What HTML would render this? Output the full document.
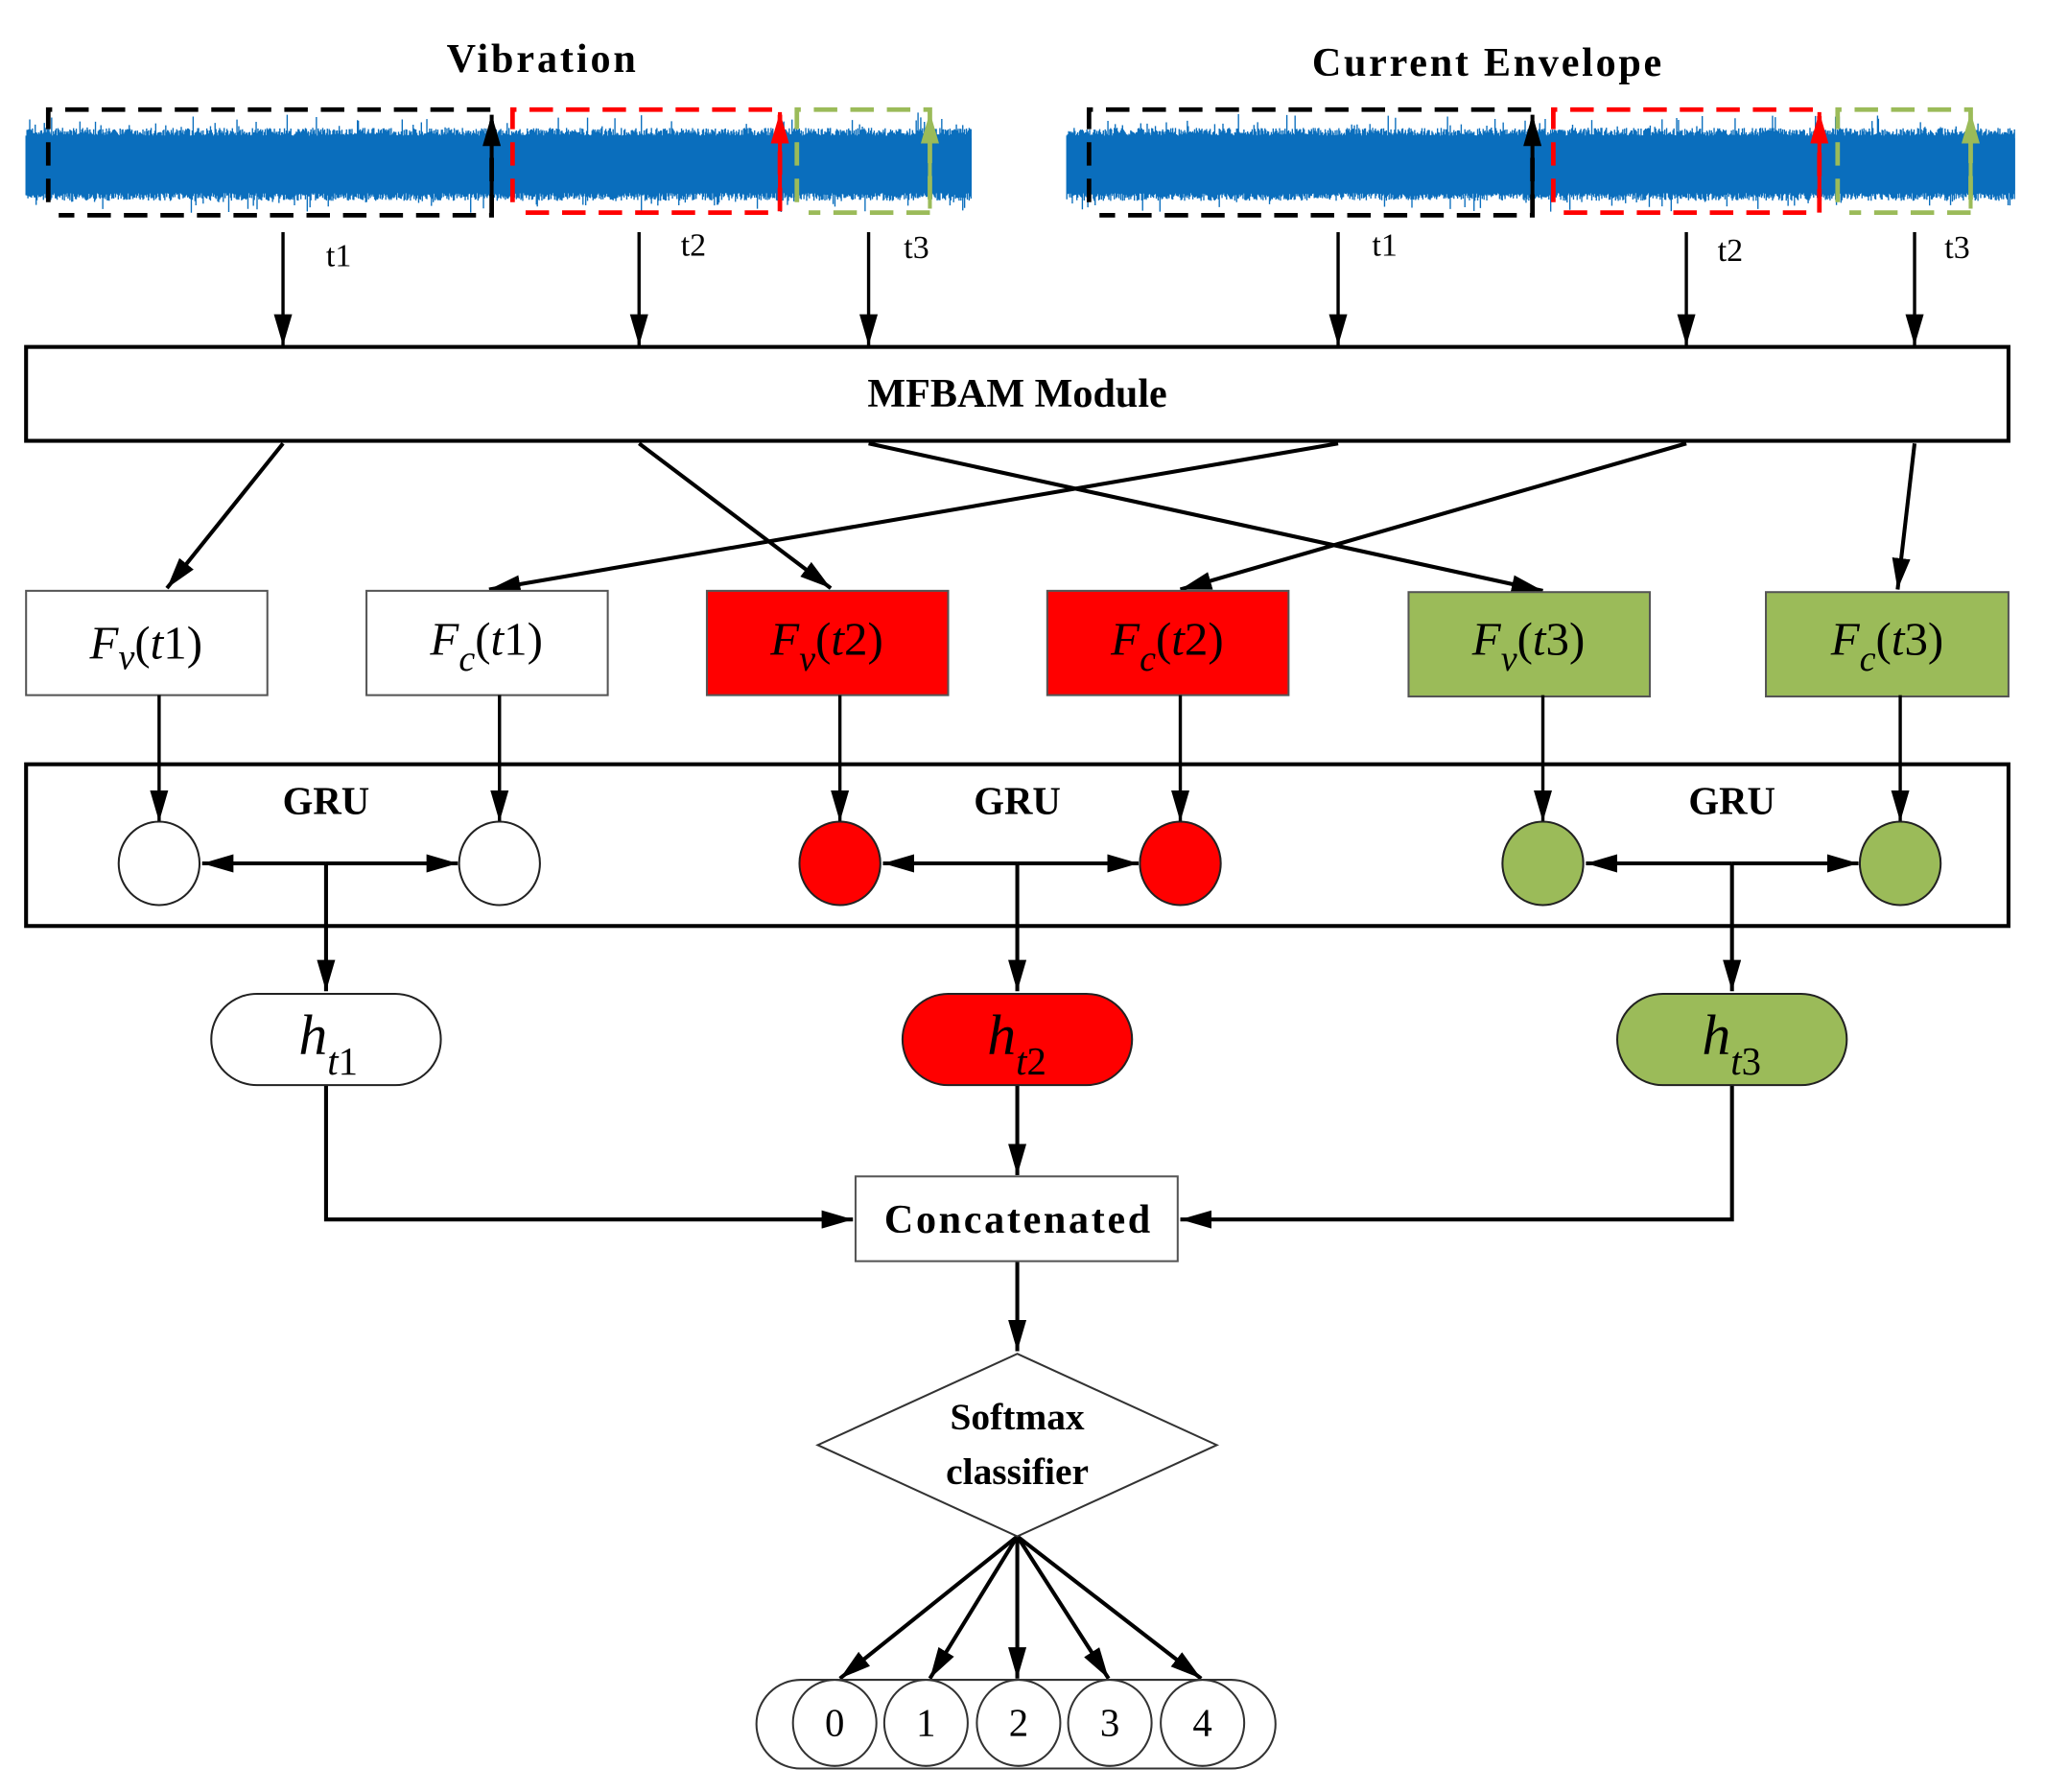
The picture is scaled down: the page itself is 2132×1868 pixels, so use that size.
<!DOCTYPE html>
<html><head><meta charset="utf-8"><style>
html,body{margin:0;padding:0;background:#fff;}
svg{display:block;}
text{font-family:"Liberation Serif",serif;}
.b{font-weight:bold;}
</style></head><body>
<svg id="s" width="2132" height="1868" viewBox="0 0 1568 1374" preserveAspectRatio="none" xmlns="http://www.w3.org/2000/svg">
<defs>
<marker id="ak" viewBox="0 0 10 10" refX="10" refY="5" markerWidth="24" markerHeight="14" markerUnits="userSpaceOnUse" orient="auto" preserveAspectRatio="none"><path d="M0,0L10,5L0,10z" fill="#000"/></marker>
<marker id="ar" viewBox="0 0 10 10" refX="10" refY="5" markerWidth="24" markerHeight="14" markerUnits="userSpaceOnUse" orient="auto" preserveAspectRatio="none"><path d="M0,0L10,5L0,10z" fill="#f00"/></marker>
<marker id="ag" viewBox="0 0 10 10" refX="10" refY="5" markerWidth="24" markerHeight="14" markerUnits="userSpaceOnUse" orient="auto" preserveAspectRatio="none"><path d="M0,0L10,5L0,10z" fill="#9bbb59"/></marker>
<marker id="ab" viewBox="0 0 10 10" refX="10" refY="5" markerWidth="24" markerHeight="14" markerUnits="userSpaceOnUse" orient="auto" preserveAspectRatio="none"><path d="M0,0L10,5L0,10z" fill="#000"/></marker>
</defs>
<text x="415" y="55" font-size="31" class="b" text-anchor="middle" textLength="145">Vibration</text>
<text x="1140" y="58" font-size="31" class="b" text-anchor="middle" textLength="268">Current Envelope</text>
<rect x="20" y="106" width="725" height="40" fill="#0070c0"/>
<rect x="818" y="106" width="727" height="40" fill="#0070c0"/>
<g id="wave" stroke="#0a6ebd" stroke-width="1"></g>
<g fill="none" stroke-width="3.5" stroke-dasharray="18,10">
<path d="M37,155V84H377V165H45" stroke="#000"/>
<path d="M393,155V84H598V163H400" stroke="#f00"/>
<path d="M611,155V84H713V163H620" stroke="#9bbb59"/>
<path d="M835,155V84H1175V165H843" stroke="#000"/>
<path d="M1191,155V84H1395V163H1198" stroke="#f00"/>
<path d="M1409,155V84H1511V163H1418" stroke="#9bbb59"/>
</g>
<g stroke-width="3">
<line x1="377" y1="160" x2="377" y2="88" stroke="#000" marker-end="url(#ab)"/>
<line x1="598" y1="160" x2="598" y2="86" stroke="#f00" marker-end="url(#ar)"/>
<line x1="713" y1="160" x2="713" y2="86" stroke="#9bbb59" marker-end="url(#ag)"/>
<line x1="1175" y1="160" x2="1175" y2="88" stroke="#000" marker-end="url(#ab)"/>
<line x1="1395" y1="160" x2="1395" y2="86" stroke="#f00" marker-end="url(#ar)"/>
<line x1="1511" y1="160" x2="1511" y2="86" stroke="#9bbb59" marker-end="url(#ag)"/>
</g>
<g stroke="#000" stroke-width="2.5" marker-end="url(#ak)">
<line x1="217" y1="178" x2="217" y2="265"/>
<line x1="490" y1="178" x2="490" y2="265"/>
<line x1="666" y1="178" x2="666" y2="265"/>
<line x1="1026" y1="178" x2="1026" y2="265"/>
<line x1="1293" y1="178" x2="1293" y2="265"/>
<line x1="1468" y1="178" x2="1468" y2="265"/>
</g>
<g font-size="25">
<text x="250" y="204">t1</text><text x="522" y="196">t2</text><text x="693" y="198">t3</text>
<text x="1052" y="196">t1</text><text x="1317" y="200">t2</text><text x="1491" y="198">t3</text>
</g>
<rect x="20" y="266" width="1520" height="72" fill="#fff" stroke="#000" stroke-width="3"/>
<text x="780" y="312" font-size="31" class="b" text-anchor="middle">MFBAM Module</text>
<g stroke="#000" stroke-width="3" marker-end="url(#ak)">
<line x1="217" y1="340" x2="128" y2="451"/>
<line x1="490" y1="340" x2="637" y2="451"/>
<line x1="666" y1="340" x2="1183" y2="453"/>
<line x1="1026" y1="340" x2="375" y2="452"/>
<line x1="1293" y1="340" x2="905" y2="452"/>
<line x1="1468" y1="340" x2="1455" y2="452"/>
</g>
<g stroke="#555" stroke-width="1.5">
<rect x="20" y="453" width="185" height="80" fill="#fff"/>
<rect x="281" y="453" width="185" height="80" fill="#fff"/>
<rect x="542" y="453" width="185" height="80" fill="#f00"/>
<rect x="803" y="453" width="185" height="80" fill="#f00"/>
<rect x="1080" y="454" width="185" height="80" fill="#9bbb59"/>
<rect x="1354" y="454" width="186" height="80" fill="#9bbb59"/>
</g>
<g font-size="36" text-anchor="middle">
<text x="112" y="505"><tspan font-style="italic">F</tspan><tspan font-size="28" dy="8" font-style="italic">v</tspan><tspan dy="-8">(<tspan font-style="italic">t</tspan>1)</tspan></text>
<text x="373" y="502"><tspan font-style="italic">F</tspan><tspan font-size="28" dy="12" font-style="italic">c</tspan><tspan dy="-12">(<tspan font-style="italic">t</tspan>1)</tspan></text>
<text x="634" y="502"><tspan font-style="italic">F</tspan><tspan font-size="28" dy="12" font-style="italic">v</tspan><tspan dy="-12">(<tspan font-style="italic">t</tspan>2)</tspan></text>
<text x="895" y="502"><tspan font-style="italic">F</tspan><tspan font-size="28" dy="12" font-style="italic">c</tspan><tspan dy="-12">(<tspan font-style="italic">t</tspan>2)</tspan></text>
<text x="1172" y="502"><tspan font-style="italic">F</tspan><tspan font-size="28" dy="12" font-style="italic">v</tspan><tspan dy="-12">(<tspan font-style="italic">t</tspan>3)</tspan></text>
<text x="1447" y="502"><tspan font-style="italic">F</tspan><tspan font-size="28" dy="12" font-style="italic">c</tspan><tspan dy="-12">(<tspan font-style="italic">t</tspan>3)</tspan></text>
</g>
<rect x="20" y="586" width="1520" height="124" fill="none" stroke="#000" stroke-width="3"/>
<g font-size="30" class="b" text-anchor="middle">
<text x="250" y="624">GRU</text><text x="780" y="624">GRU</text><text x="1328" y="624">GRU</text>
</g>
<g stroke="#000" stroke-width="2.5" marker-end="url(#ak)">
<line x1="122" y1="533" x2="122" y2="630"/><line x1="383" y1="533" x2="383" y2="630"/>
<line x1="644" y1="533" x2="644" y2="630"/><line x1="905" y1="533" x2="905" y2="630"/>
<line x1="1183" y1="533" x2="1183" y2="630"/><line x1="1457" y1="533" x2="1457" y2="630"/>
</g>
<g stroke="#222" stroke-width="1.5">
<ellipse cx="122" cy="662" rx="31" ry="32" fill="#fff"/><ellipse cx="383" cy="662" rx="31" ry="32" fill="#fff"/>
<ellipse cx="644" cy="662" rx="31" ry="32" fill="#f00"/><ellipse cx="905" cy="662" rx="31" ry="32" fill="#f00"/>
<ellipse cx="1183" cy="662" rx="31" ry="32" fill="#9bbb59"/><ellipse cx="1457" cy="662" rx="31" ry="32" fill="#9bbb59"/>
</g>
<g stroke="#000" stroke-width="3" marker-end="url(#ak)" fill="none">
<line x1="250" y1="662" x2="155" y2="662"/><line x1="250" y1="662" x2="351" y2="662"/><line x1="250" y1="662" x2="250" y2="760"/>
<line x1="780" y1="662" x2="677" y2="662"/><line x1="780" y1="662" x2="873" y2="662"/><line x1="780" y1="662" x2="780" y2="760"/>
<line x1="1328" y1="662" x2="1216" y2="662"/><line x1="1328" y1="662" x2="1425" y2="662"/><line x1="1328" y1="662" x2="1328" y2="760"/>
<path d="M250,832V935H654"/><line x1="780" y1="832" x2="780" y2="901"/><path d="M1328,832V935H905"/>
<line x1="780" y1="967" x2="780" y2="1036"/>
<line x1="780" y1="1178" x2="644" y2="1287"/><line x1="780" y1="1178" x2="713" y2="1287"/>
<line x1="780" y1="1178" x2="780" y2="1287"/><line x1="780" y1="1178" x2="850" y2="1287"/>
<line x1="780" y1="1178" x2="921" y2="1287"/>
</g>
<g stroke="#222" stroke-width="1.5">
<rect x="162" y="762" width="176" height="70" rx="35" fill="#fff"/>
<rect x="692" y="762" width="176" height="70" rx="35" fill="#f00"/>
<rect x="1240" y="762" width="176" height="70" rx="35" fill="#9bbb59"/>
</g>
<g font-size="44">
<text x="229" y="808"><tspan font-style="italic">h</tspan><tspan font-size="30" dy="16"><tspan font-style="italic">t</tspan>1</tspan></text>
<text x="757" y="808"><tspan font-style="italic">h</tspan><tspan font-size="30" dy="16"><tspan font-style="italic">t</tspan>2</tspan></text>
<text x="1305" y="808"><tspan font-style="italic">h</tspan><tspan font-size="30" dy="16"><tspan font-style="italic">t</tspan>3</tspan></text>
</g>
<rect x="656" y="902" width="247" height="65" fill="#fff" stroke="#555" stroke-width="1.5"/>
<text x="780" y="945" font-size="31" class="b" text-anchor="middle" textLength="204">Concatenated</text>
<path d="M780,1038L933,1108L780,1178L627,1108Z" fill="#fff" stroke="#333" stroke-width="1.5"/>
<text x="780" y="1096" font-size="29" class="b" text-anchor="middle">Softmax</text>
<text x="780" y="1138" font-size="29" class="b" text-anchor="middle">classifier</text>
<rect x="580" y="1288" width="398" height="68" rx="34" fill="#fff" stroke="#333" stroke-width="1.5"/>
<g fill="#fff" stroke="#333" stroke-width="1.5">
<ellipse cx="640" cy="1321" rx="32" ry="33"/><ellipse cx="710" cy="1321" rx="32" ry="33"/>
<ellipse cx="781" cy="1321" rx="32" ry="33"/><ellipse cx="851" cy="1321" rx="32" ry="33"/>
<ellipse cx="922" cy="1321" rx="32" ry="33"/>
</g>
<g font-size="30" text-anchor="middle">
<text x="640" y="1331">0</text><text x="710" y="1331">1</text><text x="781" y="1331">2</text><text x="851" y="1331">3</text><text x="922" y="1331">4</text>
</g>
</svg>
<script>
(function(){
var g=document.getElementById('wave');var seed=7;
function r(){seed=(seed*16807)%2147483647;return seed/2147483647;}
var d='';
function band(x0,x1){for(var x=x0;x<=x1;x+=0.7){var up=8+r()*6+(r()<0.08?r()*12:0);var dn=8+r()*6+(r()<0.06?r()*10:0);d+='M'+x.toFixed(1)+','+(106-up+6).toFixed(1)+'V'+(146+dn-6).toFixed(1);}}
band(20,745);band(818,1545);
var p=document.createElementNS('http://www.w3.org/2000/svg','path');p.setAttribute('d',d);g.appendChild(p);
})();
</script>
</body></html>
